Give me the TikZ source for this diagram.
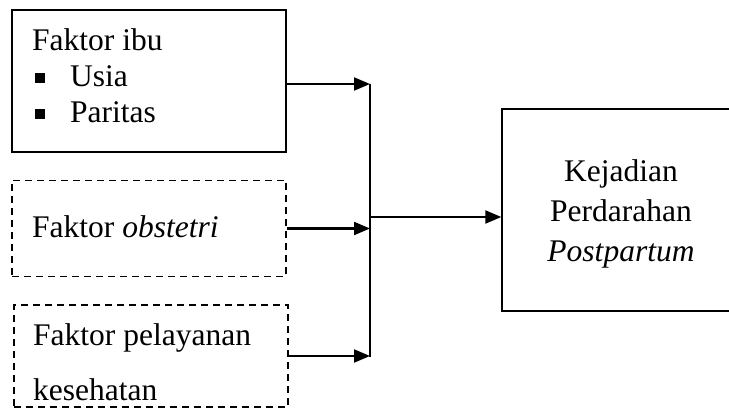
\documentclass[tikz,border=0pt]{standalone}
\usepackage{fontspec}
\setmainfont{Liberation Serif}
\usetikzlibrary{arrows.meta}
\begin{document}
\begin{tikzpicture}[x=1pt,y=-1pt,
  box/.style={draw, line width=1.4pt, minimum width=274pt, inner sep=0pt},
  dbox/.style={box, dash pattern=on 7pt off 5pt},
  lbl/.style={anchor=base west, inner sep=0pt, font=\fontsize{31.5}{36}\selectfont},
  sq/.style={draw=none, fill=black, minimum size=10pt, inner sep=0pt},
  arr/.style={line width=2.2pt, -{Triangle[length=16pt,width=13pt]}},
  bus/.style={line width=2.2pt}]
\useasboundingbox (0,0) rectangle (729,414);
\clip (0,0) rectangle (729,414);
% boxes
\node[box, minimum height=142pt] (b1) at (149,81) {};
\node[dbox, minimum height=96pt] (b2) at (149,228.5) {};
\node[dbox, minimum height=102pt] (b3) at (151,356) {};
\node[box, minimum width=240pt, minimum height=202pt] (r) at (622,210) {};
% texts
\node[lbl] (t1) at (32,51) {Faktor ibu};
\node[sq] (s1) at (40,78) {};
\node[lbl] (t2) at (70,87) {Usia};
\node[sq] (s2) at (40,114) {};
\node[lbl] (t3) at (70,123) {Paritas};
\node[lbl] (t4) at (32,238) {Faktor \textit{obstetri}};
\node[lbl] (t5) at (33,345) {Faktor pelayanan};
\node[lbl] (t6) at (33,400) {kesehatan};
\node[anchor=center, align=center, inner sep=0pt, font=\fontsize{31.5}{40}\selectfont] (rt) at (621,214) {Kejadian\\Perdarahan\\\textit{Postpartum}};
% connectors
\coordinate (j1) at (370,84);
\coordinate (j3) at (370,357);
\coordinate (jm) at (370,217);
\draw[bus] (j1) -- (j3);
\draw[arr] (b1.east |- j1) -- (j1);
\draw[arr] (b2.east) -- (b2.east -| j1);
\draw[arr] (b3.east) -- (b3.east -| j1);
\draw[arr] (jm) -- (r.west |- jm);
\end{tikzpicture}
\end{document}
